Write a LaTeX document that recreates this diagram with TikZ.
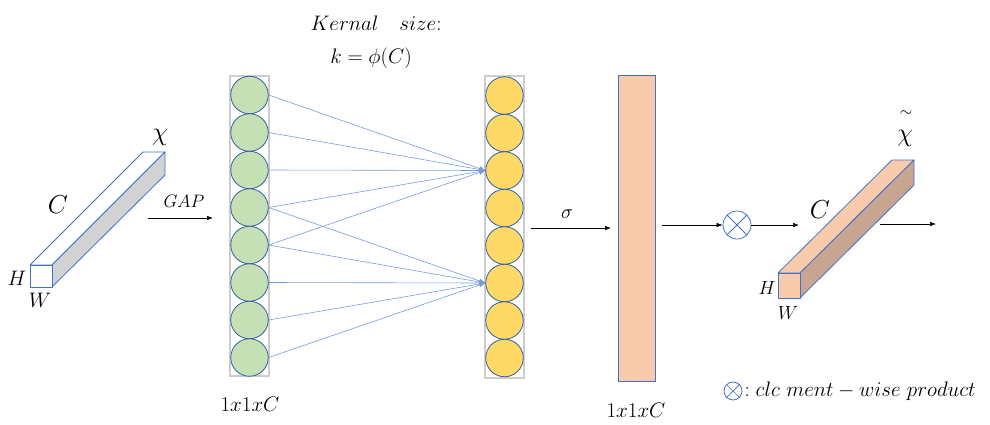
\RequirePackage{fix-cm}
\documentclass[tikz,border=0pt]{standalone}
\usetikzlibrary{arrows.meta}
\definecolor{edgeblue}{RGB}{68,114,196}
\definecolor{ringblue}{RGB}{52,92,162}
\definecolor{linkblue}{RGB}{120,155,215}
\definecolor{greenfill}{RGB}{197,224,180}
\definecolor{yellowfill}{RGB}{255,217,102}
\definecolor{orangefill}{RGB}{248,203,173}
\definecolor{brownface}{RGB}{200,165,145}
\definecolor{grayface}{RGB}{210,210,210}
\definecolor{framegray}{RGB}{205,205,205}
\begin{document}
\begin{tikzpicture}[x=1pt,y=-1pt,
  neuron/.style={circle,draw=ringblue,line width=0.8pt,minimum size=37.5pt,inner sep=0pt},
  gneuron/.style={neuron,fill=greenfill},
  yneuron/.style={neuron,fill=yellowfill},
  frame/.style={draw=framegray,line width=2pt},
  link/.style={draw=linkblue,line width=0.6pt,-{Latex[length=6pt,width=5pt]}},
  flow/.style={draw=black,line width=0.6pt,-{Latex[length=6pt,width=4.5pt]}},
  face/.style={draw=edgeblue,line width=0.8pt,line join=round},
  lbl/.style={inner sep=0pt,font=\fontsize{21}{23}\selectfont},
  biglbl/.style={inner sep=0pt,font=\fontsize{26}{28}\selectfont},
  hwlbl/.style={inner sep=0pt,font=\fontsize{21}{23}\selectfont},
  prod/.style={circle,draw=edgeblue,line width=0.8pt,minimum size=28pt,inner sep=0pt}
]
\useasboundingbox (0,0) rectangle (990,424);

% ---- input tensor X
\draw[face,fill=white] (30,265) -- (143,152) -- (165,152) -- (52,265) -- cycle;
\draw[face,fill=grayface] (52,265) -- (165,152) -- (165,175) -- (52,287) -- cycle;
\draw[face,fill=white] (30,265) rectangle (52,287);
\node[biglbl] (chi) at (160,137) {$\chi$};
\node[biglbl] (Cl) at (58,205) {$C$};
\node[hwlbl] (Hl) at (17,278) {$H$};
\node[hwlbl] (Wl) at (40,300) {$W$};

% GAP arrow
\coordinate (gapS) at (148,218);
\coordinate (gapE) at (213,218);
\draw[flow] (gapS) -- (gapE);
\node[lbl,font=\fontsize{18}{20}\selectfont] (gap) at (184,201) {$GAP$};

% ---- green column
\draw[frame] (230,76) rectangle (269,376);
\foreach \i in {1,...,8}{
  \node[gneuron] (g\i) at (249.5,{95+(\i-1)*37.5}) {};
}
% ---- yellow column
\draw[frame] (485,76) rectangle (524,378);
\foreach \i in {1,...,8}{
  \node[yneuron] (y\i) at (504.5,{95.5+(\i-1)*37.5}) {};
}
% links
\foreach \i in {1,...,5}{ \draw[link] (g\i.east) -- (y3.west); }
\foreach \i in {4,...,8}{ \draw[link] (g\i.east) -- (y6.west); }

\node[lbl] (k1) at (376,23) {$Kernal\quad size{:}$};
\node[lbl] (k2) at (371,58) {$k=\phi(C)$};
\node[lbl] (s1) at (250,404) {$1x1xC$};

% sigma arrow
\coordinate (sigS) at (531,228);
\coordinate (sigE) at (611,228);
\draw[flow] (sigS) -- (sigE);
\node[lbl,font=\fontsize{20}{22}\selectfont] (sig) at (567,214) {$\sigma$};

% ---- orange vector
\node[draw=edgeblue,line width=0.8pt,fill=orangefill,minimum width=37pt,minimum height=306pt,inner sep=0pt] (att) at (636.5,228) {};
\node[lbl] (s2) at (636,410) {$1x1xC$};

% product
\node[prod] (ot) at (737,225) {};
\draw[edgeblue,line width=0.8pt] (ot.north west) -- (ot.south east) (ot.north east) -- (ot.south west);
\coordinate (a1) at (662,225);
\draw[flow] (a1) -- (ot.west);
\coordinate (a2) at (799,225);
\draw[flow] (ot.east) -- (a2);

% ---- output tensor
\draw[face,fill=orangefill] (778,273) -- (892,160) -- (914,160) -- (800,273) -- cycle;
\draw[face,fill=brownface] (800,273) -- (914,160) -- (914,185) -- (800,298) -- cycle;
\draw[face,fill=orangefill] (778,273) rectangle (800,298);
\node[biglbl] (chit) at (905,138) {$\chi$};
\node[lbl,font=\fontsize{16}{18}\selectfont] (tilde) at (906,114) {$\sim$};
\node[biglbl] (C2) at (820,210) {$C$};
\node[hwlbl,font=\fontsize{19}{21}\selectfont] (H2) at (767,288) {$H$};
\node[hwlbl,font=\fontsize{19}{21}\selectfont] (W2) at (788,313) {$W$};
\coordinate (o1) at (880,224);
\coordinate (o2) at (936,224);
\draw[flow] (o1) -- (o2);

% legend
\node[prod,minimum size=18pt] (lot) at (733,391) {};
\draw[edgeblue,line width=0.7pt] (lot.north west) -- (lot.south east) (lot.north east) -- (lot.south west);
\node[lbl,anchor=west] (leg) at ([xshift=2pt]lot.east) {$:clc\ ment-wise\ product$};
\end{tikzpicture}
\end{document}
